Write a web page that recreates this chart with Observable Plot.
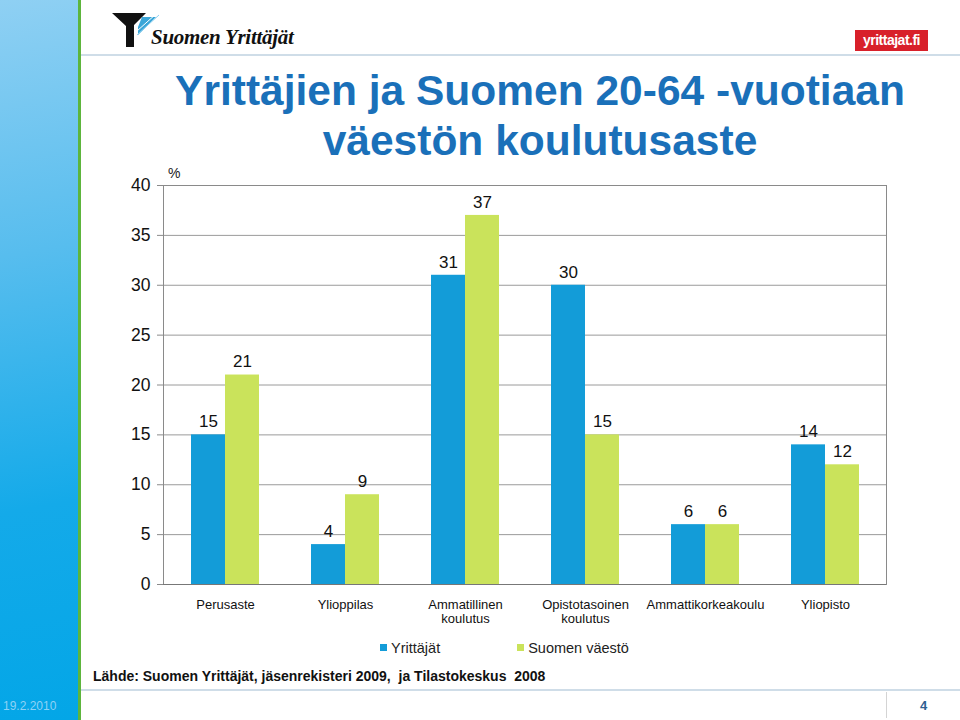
<!DOCTYPE html>
<html>
<head>
<meta charset="utf-8">
<script src="https://cdn.jsdelivr.net/npm/d3@7"></script>
<script src="https://cdn.jsdelivr.net/npm/@observablehq/plot@0.6"></script>
<style>
  html, body { margin: 0; padding: 0; background: #fff; }
  #page { position: relative; width: 960px; height: 720px; overflow: hidden; font-family: "Liberation Sans", Arial, sans-serif; }
  .abs { position: absolute; white-space: nowrap; }
  #stripe { left: 0; top: 0; width: 78px; height: 720px; background: linear-gradient(170deg, #8fd0f3 0%, #57bdee 35%, #14aae9 70%, #03a6e7 100%); }
  #greenline { left: 78px; top: 0; width: 3px; height: 720px; background: #5db53d; }
  #chart { left: 100px; top: 170px; }
  .title { left: 100px; width: 880px; text-align: center; color: #1a70b9; font-weight: bold; font-size: 42.5px; }
  .sw { display: inline-block; width: 7px; height: 7px; margin-right: 4px; vertical-align: 2px; }
</style>
</head>
<body>
<div id="page">
  <div class="abs" id="stripe"></div>
  <div class="abs" id="greenline"></div>
  <div class="abs" style="left:81px;top:54px;width:879px;height:2px;background:#cfdde8"></div>
  <div class="abs" style="left:81px;top:689px;width:879px;height:2px;background:#cfdde8"></div>
  <div class="abs" style="left:886px;top:692px;width:1px;height:26px;background:#d4d4d4"></div>

  <svg class="abs" style="left:112px;top:13px" width="50" height="36" viewBox="0 0 50 36">
    <polygon points="0,0 34,0 22,12 22,34 14,34 14,13" fill="#111"/>
    <polygon points="30,4 44,4 26,22 26,14" fill="#3aa6d8"/>
    <line x1="25" y1="18" x2="44" y2="1" stroke="#fff" stroke-width="1"/>
    <line x1="25" y1="22" x2="47" y2="2" stroke="#8fd0f0" stroke-width="1"/>
  </svg>
  <div class="abs" style="left:151px;top:25px;font-family:'Liberation Serif',serif;font-style:italic;font-weight:bold;font-size:21px;color:#111;letter-spacing:-0.3px">Suomen Yrittäjät</div>
  <div class="abs" style="left:855px;top:30px;width:73px;height:21px;background:#d8202a;color:#fff;font-weight:bold;font-size:14px;line-height:21px;text-align:center;letter-spacing:-0.5px">yrittajat.fi</div>

  <div class="abs title" style="top:67px">Yrittäjien ja Suomen 20-64 -vuotiaan</div>
  <div class="abs title" style="top:117px">väestön koulutusaste</div>

  <div class="abs" style="left:168px;top:165px;font-size:14px;color:#222">%</div>
  <div class="abs" id="chart"></div>

  <div class="abs" id="legend" style="left:380px;top:640px;font-size:14.5px;color:#222"></div>
  <div class="abs" style="left:93px;top:668px;font-size:14px;font-weight:bold;color:#111">Lähde: Suomen Yrittäjät, jäsenrekisteri 2009,&nbsp; ja Tilastokeskus&nbsp; 2008</div>
  <div class="abs" style="left:3px;top:699px;font-size:12px;color:#8ed2f5">19.2.2010</div>
  <div class="abs" style="left:920px;top:698px;font-size:13px;font-weight:bold;color:#2d5f91">4</div>
</div>
<script>
const categories = ["Perusaste", "Ylioppilas", "Ammatillinen\nkoulutus", "Opistotasoinen\nkoulutus", "Ammattikorkeakoulu", "Yliopisto"];
const yrittajat = [15, 4, 31, 30, 6, 14];
const vaesto = [21, 9, 37, 15, 6, 12];
const seriesNames = ["Yrittäjät", "Suomen väestö"];
const seriesColors = ["#139cd8", "#cae35b"];
const yTicks = [0, 5, 10, 15, 20, 25, 30, 35, 40];

const blueData = categories.map((c, i) => ({category: c, value: yrittajat[i], series: seriesNames[0]}));
const greenData = categories.map((c, i) => ({category: c, value: vaesto[i], series: seriesNames[1]}));

const chart = Plot.plot({
  width: 800,
  height: 460,
  marginLeft: 63,
  marginTop: 15,
  marginRight: 14,
  marginBottom: 46,
  style: {fontFamily: "'Liberation Sans', Arial, sans-serif", fontSize: "13px", color: "#111", background: "transparent"},
  x: {domain: categories, paddingInner: 0.436, paddingOuter: 0.218},
  y: {domain: [0, 40]},
  marks: [
    Plot.ruleY(yTicks.slice(1), {stroke: "#9a9a9a", strokeWidth: 1, strokeOpacity: 1}),
    Plot.barY(blueData, {x: "category", y: "value", fill: seriesColors[0], insetRight: 34, insetLeft: 0}),
    Plot.barY(greenData, {x: "category", y: "value", fill: seriesColors[1], insetLeft: 34, insetRight: 0}),
    Plot.text(blueData, {x: "category", y: "value", text: d => String(d.value), dx: -17, dy: -13, fontSize: 17, fill: "#111"}),
    Plot.text(greenData, {x: "category", y: "value", text: d => String(d.value), dx: 17, dy: -13, fontSize: 17, fill: "#111"}),
    Plot.axisX({label: null, tickSize: 0, tickPadding: 14, fontSize: 13, lineHeight: 1.12, fill: "#111"}),
    Plot.axisY({ticks: yTicks, label: null, tickSize: 6, tickPadding: 7, fontSize: 17.5, fill: "#111", stroke: "#8a8a8a"}),
    Plot.frame({stroke: "#8a8a8a", strokeOpacity: 1}),
    Plot.ruleY([0], {stroke: "#777", strokeWidth: 1.2})
  ]
});
document.getElementById("chart").appendChild(chart);

const legend = document.getElementById("legend");
seriesNames.forEach((name, i) => {
  const item = document.createElement("span");
  item.style.display = "inline-block";
  item.style.marginRight = i === 0 ? "77px" : "0";
  item.innerHTML = `<span class="sw" style="background:${seriesColors[i]}"></span>${name}`;
  legend.appendChild(item);
});
</script>
</body>
</html>
